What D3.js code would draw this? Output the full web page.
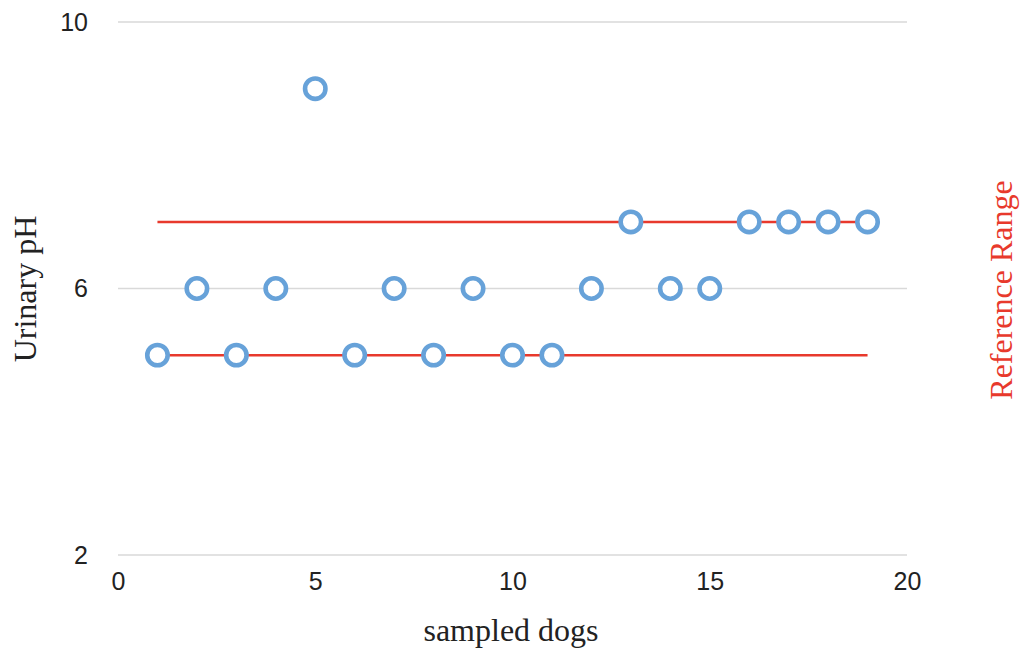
<!DOCTYPE html>
<html>
<head>
<meta charset="utf-8">
<script src="https://cdn.jsdelivr.net/npm/d3@7"></script>
<style>
  body { margin: 0; background: #fff; }
  svg { display: block; }
</style>
</head>
<body>
<div id="chart"></div>
<script>
// Data
let dogs = [1, 2, 3, 4, 5, 6, 7, 8, 9, 10, 11, 12, 13, 14, 15, 16, 17, 18, 19]
let urinaryPH = [5, 6, 5, 6, 9, 5, 6, 5, 6, 5, 5, 6, 7, 6, 6, 7, 7, 7, 7]
let refLow = [[1, 5], [19, 5]]
let refHigh = [[1, 7], [19, 7]]
let xTicks = [0, 5, 10, 15, 20]
let yTicks = [2, 6, 10]

// plot area edges
let w = 1023, h = 648;
let plotLeft = 118, plotRight = 907, plotTop = 22, plotBottom = 555;

let svg = d3.select("#chart").append("svg").attr("width", w).attr("height", h);

let xScale = d3.scaleLinear().domain([0, 20]).range([plotLeft, plotRight]);
let yScale = d3.scaleLinear().domain([2, 10]).range([plotBottom, plotTop]);

// horizontal gridlines
svg.append("g")
  .selectAll("line")
  .data(yTicks)
  .enter()
  .append("line")
  .attr("x1", plotLeft)
  .attr("x2", plotRight)
  .attr("y1", d => yScale(d))
  .attr("y2", d => yScale(d))
  .attr("stroke", "#d9d9d9")
  .attr("stroke-width", 1.3);

// y axis labels
const yAxis = d3.axisLeft(yScale).tickValues(yTicks).tickSize(0).tickPadding(30);
svg.append("g")
  .attr("transform", "translate(" + plotLeft + ",0)")
  .call(yAxis)
  .call(g => g.select(".domain").remove())
  .selectAll("text")
  .style("font-family", "'Liberation Sans', Arial, sans-serif")
  .style("font-size", "25px")
  .attr("fill", "#222");

// x axis labels
const xAxis = d3.axisBottom(xScale).tickValues(xTicks).tickSize(0).tickPadding(17);
svg.append("g")
  .attr("transform", "translate(0," + plotBottom + ")")
  .call(xAxis)
  .call(g => g.select(".domain").remove())
  .selectAll("text")
  .style("font-family", "'Liberation Sans', Arial, sans-serif")
  .style("font-size", "25px")
  .attr("fill", "#222");

// reference range lines
let line = d3.line().x(d => xScale(d[0])).y(d => yScale(d[1]));
[refLow, refHigh].forEach(r => {
  svg.append("path")
    .attr("d", line(r))
    .attr("fill", "none")
    .attr("stroke", "#e8392c")
    .attr("stroke-width", 2.5);
});

// points
svg.selectAll("circle")
  .data(dogs)
  .enter()
  .append("circle")
  .attr("cx", d => xScale(d))
  .attr("cy", (d, i) => yScale(urinaryPH[i]))
  .attr("r", 10.2)
  .attr("fill", "#fff")
  .attr("stroke", "#67a2d9")
  .attr("stroke-width", 4.6);

// axis titles
svg.append("text")
  .attr("x", 511)
  .attr("y", 641)
  .attr("text-anchor", "middle")
  .style("font-family", "'Liberation Serif', 'Times New Roman', serif")
  .style("font-size", "32px")
  .attr("fill", "#222")
  .text("sampled dogs");

svg.append("text")
  .attr("transform", "translate(36,289) rotate(-90)")
  .attr("text-anchor", "middle")
  .style("font-family", "'Liberation Serif', 'Times New Roman', serif")
  .style("font-size", "32px")
  .attr("fill", "#222")
  .text("Urinary pH");

svg.append("text")
  .attr("transform", "translate(1012,290) rotate(-90)")
  .attr("text-anchor", "middle")
  .style("font-family", "'Liberation Serif', 'Times New Roman', serif")
  .style("font-size", "32px")
  .attr("fill", "#e8392c")
  .text("Reference Range");
</script>
</body>
</html>
